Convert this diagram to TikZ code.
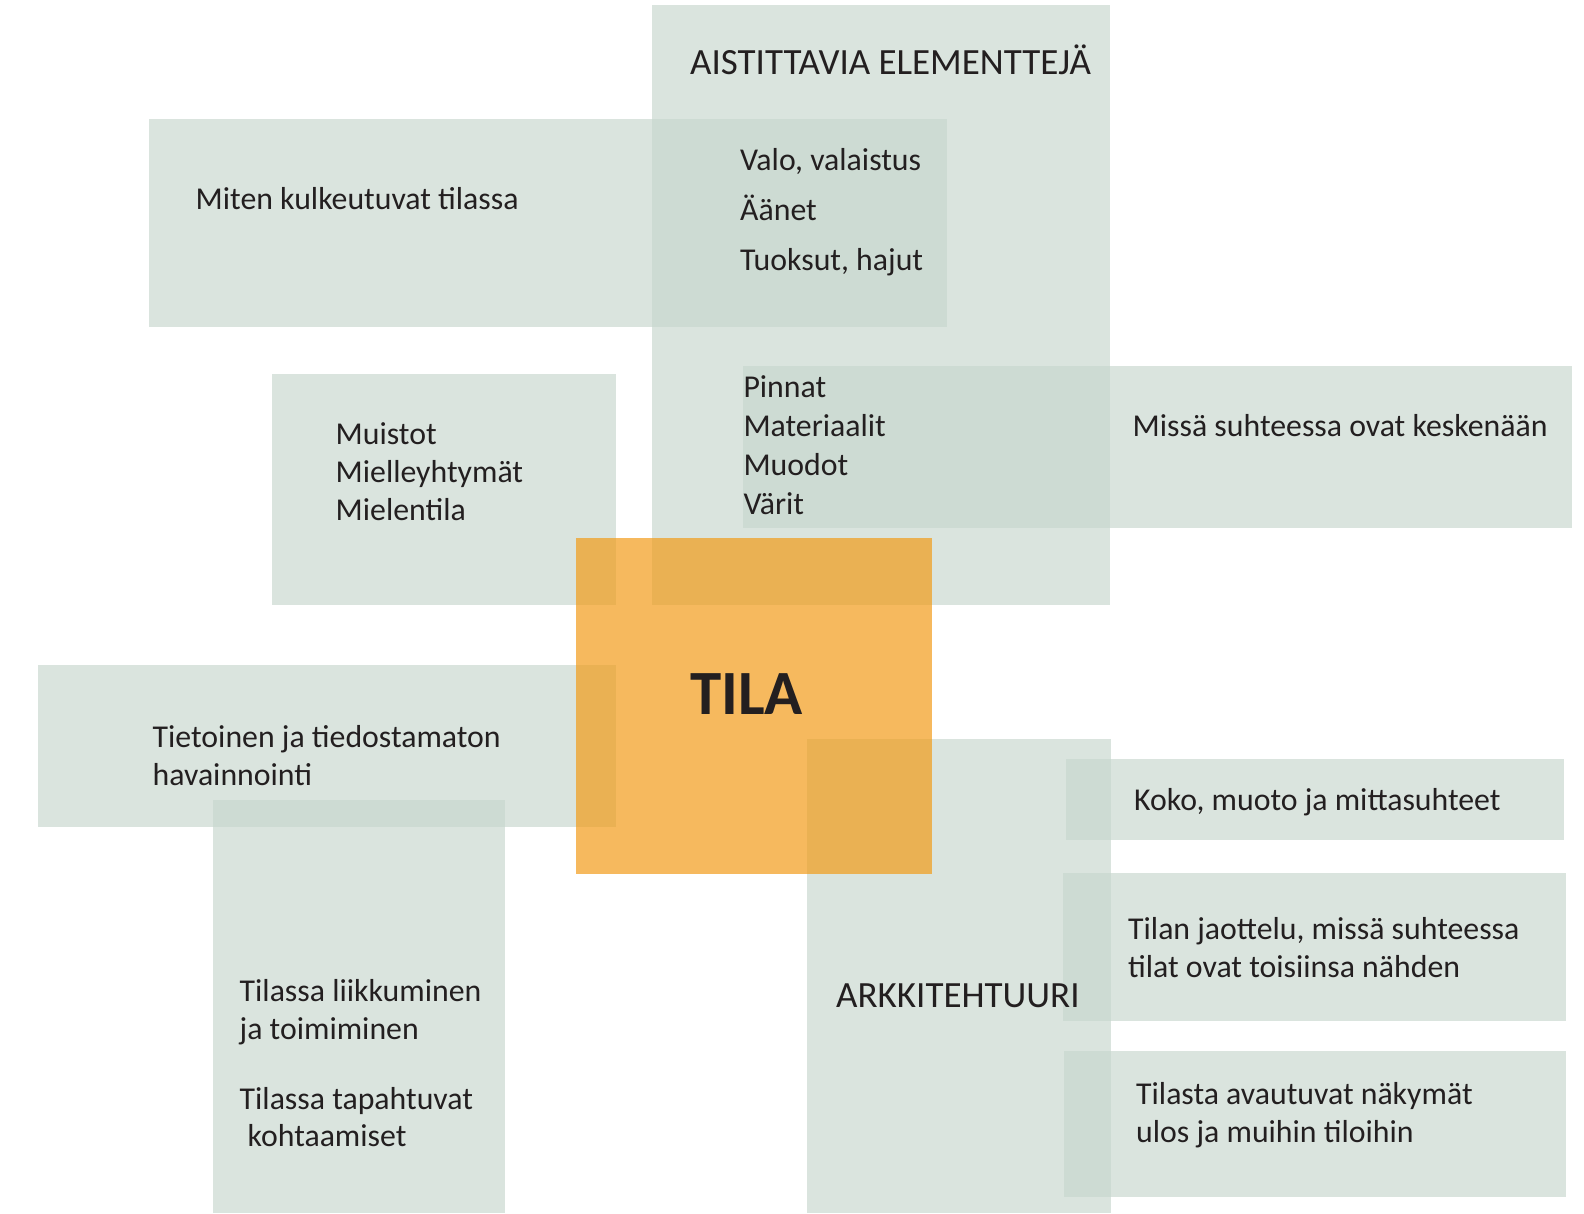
\documentclass[tikz,border=0pt]{standalone}
\usepackage{fontspec}
\setmainfont{Carlito}
\definecolor{boxgreen}{RGB}{200,216,207}
\definecolor{boxorange}{RGB}{243,152,15}
\definecolor{ink}{RGB}{35,31,32}
\begin{document}
\begin{tikzpicture}[x=1pt,y=-1pt,
  gbox/.style={fill=boxgreen,fill opacity=0.67},
  obox/.style={fill=boxorange,fill opacity=0.67},
  txt/.style={anchor=base west,inner sep=0pt,text=ink,font=\fontsize{31.8}{38}\selectfont},
  head/.style={anchor=base west,inner sep=0pt,text=ink,font=\fontsize{37}{44}\selectfont},
  title/.style={anchor=base west,inner sep=0pt,text=ink,font=\fontsize{63}{70}\selectfont\bfseries}]
\useasboundingbox (0,0) rectangle (1584,1213);
\fill[white] (0,0) rectangle (1584,1213);
% green boxes
\fill[gbox] (652,5) rectangle (1110,605);
\fill[gbox] (148.5,119) rectangle (946.7,326.7);
\fill[gbox] (271.7,373.8) rectangle (616,604.7);
\fill[gbox] (743,366) rectangle (1572,527.7);
\fill[gbox] (38.4,665) rectangle (616,826.7);
\fill[gbox] (213,800) rectangle (505,1213);
\fill[gbox] (807,739) rectangle (1111,1213);
\fill[gbox] (1065.8,759) rectangle (1564,840);
\fill[gbox] (1062.7,873) rectangle (1566,1020.5);
\fill[gbox] (1063.7,1051) rectangle (1566,1196.5);
% orange box
\fill[obox] (576,538) rectangle (932,874);
% texts
\node[head] (aist) at (690,74.5) {AISTITTAVIA ELEMENTTEJÄ};
\node[txt] (valo) at (740,170) {Valo, valaistus};
\node[txt] (aanet) at (740,220.7) {Äänet};
\node[txt] (tuok) at (740,270.7) {Tuoksut, hajut};
\node[txt] (miten) at (195.5,209.5) {Miten kulkeutuvat tilassa};
\node[txt] (pinnat) at (743.3,397.7) {Pinnat};
\node[txt] (mater) at (743.3,436.5) {Materiaalit};
\node[txt] (muodot) at (743.3,475) {Muodot};
\node[txt] (varit) at (743.3,514) {Värit};
\node[txt] (missa) at (1132.5,436) {Missä suhteessa ovat keskenään};
\node[txt] (muistot) at (335.5,444.3) {Muistot};
\node[txt] (miell) at (335.5,482.7) {Mielleyhtymät};
\node[txt] (mielen) at (335.5,520.5) {Mielentila};
\node[title] (tila) at (690,714.3) {TILA};
\node[txt] (tiet1) at (152.5,747.7) {Tietoinen ja tiedostamaton};
\node[txt] (tiet2) at (152.5,785.7) {havainnointi};
\node[txt] (liik1) at (239.5,1001.7) {Tilassa liikkuminen};
\node[txt] (liik2) at (239.5,1039.3) {ja toimiminen};
\node[txt] (tapa1) at (239.5,1109) {Tilassa tapahtuvat};
\node[txt] (tapa2) at (247.5,1146.7) {kohtaamiset};
\node[head] (arkk) at (836,1007.5) {ARKKITEHTUURI};
\node[txt] (koko) at (1134,810.5) {Koko, muoto ja mittasuhteet};
\node[txt] (jaot1) at (1128,939) {Tilan jaottelu, missä suhteessa};
\node[txt] (jaot2) at (1128,977) {tilat ovat toisiinsa nähden};
\node[txt] (avau1) at (1136,1104.5) {Tilasta avautuvat näkymät};
\node[txt] (avau2) at (1136,1142.5) {ulos ja muihin tiloihin};
\end{tikzpicture}
\end{document}
